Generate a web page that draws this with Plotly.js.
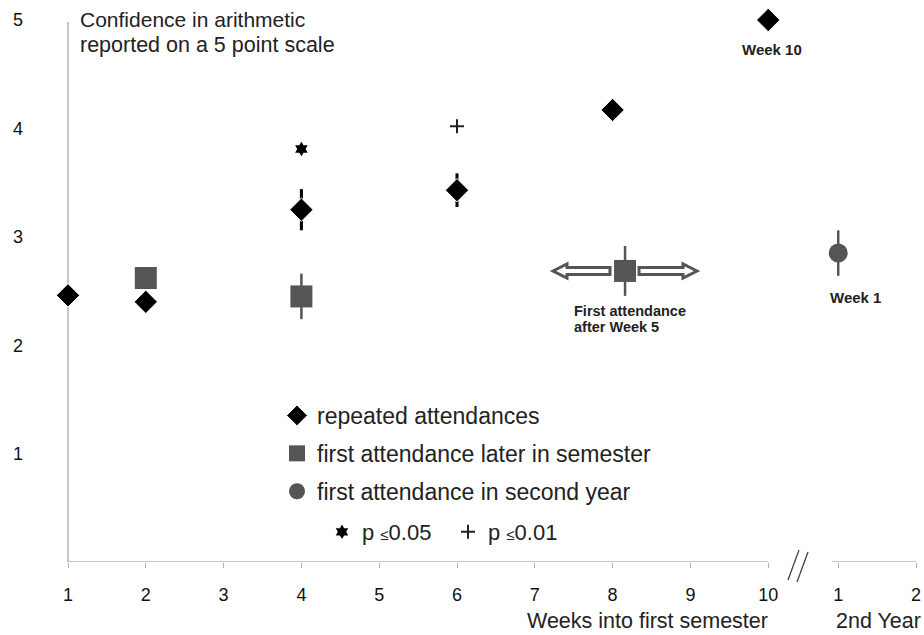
<!DOCTYPE html>
<html>
<head>
<meta charset="utf-8">
<script src="https://cdn.plot.ly/plotly-3.0.1.min.js"></script>
<style>html,body{margin:0;padding:0;background:#fff;}#chart{width:924px;height:635px;}</style>
</head>
<body>
<div id="chart"></div>
<script>
// ---------------- data ----------------
const weekTicks = [1, 2, 3, 4, 5, 6, 7, 8, 9, 10, 10.9, 11.9];
const weekTickText = ['1', '2', '3', '4', '5', '6', '7', '8', '9', '10', '1', '2'];
const confTicks = [1, 2, 3, 4, 5];

// repeated attendances (diamonds)
const repWeeks = [1, 2, 4, 6, 8, 10];
const repConf = [2.46, 2.40, 3.25, 3.43, 4.17, 5.00];
const repErr = [0, 0, 0.19, 0.155, 0, 0];

// first attendance later in semester (squares)
const laterWeeks = [2, 4, 8.16];
const laterConf = [2.62, 2.45, 2.685];
const laterErr = [0, 0.21, 0.23];

// first attendance in second year (circle)
const secondYearWeeks = [10.9];
const secondYearConf = [2.85];
const secondYearErr = [0.21];

// significance markers
const sig05Weeks = [4];
const sig05Conf = [3.81];
const sig01Weeks = [6];
const sig01Conf = [4.02];

// ---------------- geometry helpers ----------------
const ML = 25, MR = 4, MT = 5, MB = 73, W = 924, H = 635;
const PW = W - ML - MR, PH = H - MT - MB;
const PXU = 77.8, PYU = 108.4;          // pixels per unit
const X0 = 1 - (68 - ML) / PXU;
const X1 = X0 + PW / PXU;
const Y1 = PH / PYU;
const BASE = H - MB;                      // pixel of y = 0
const PX = p => X0 + (p - ML) / PXU;      // pixel -> data x
const PY = p => (BASE - p) / PYU;         // pixel -> data y
const PAX = p => (p - ML) / PW;           // pixel -> paper x
const PAY = p => (BASE - p) / PH;         // pixel -> paper y

const FONT = 'Liberation Sans, Arial, sans-serif';
const GREY = '#555555';
const AXC = '#b3b3b3';

const traces = [
  {
    type: 'scatter', mode: 'markers', name: 'repeated attendances',
    x: repWeeks, y: repConf, legendgroup: 'a',
    marker: {symbol: 'diamond', size: 18, color: '#000', line: {color: '#fff', width: 1}},
    error_y: {type: 'data', array: repErr, visible: true, color: '#000', thickness: 3, width: 0}
  },
  {
    type: 'scatter', mode: 'markers', name: 'first attendance later in semester',
    x: laterWeeks, y: laterConf, legendgroup: 'b',
    marker: {symbol: 'square', size: 22, color: GREY},
    error_y: {type: 'data', array: laterErr, visible: true, color: GREY, thickness: 2.5, width: 0}
  },
  {
    type: 'scatter', mode: 'markers', name: 'first attendance in second year',
    x: secondYearWeeks, y: secondYearConf, legendgroup: 'c',
    marker: {symbol: 'circle', size: 19, color: GREY},
    error_y: {type: 'data', array: secondYearErr, visible: true, color: GREY, thickness: 2.5, width: 0}
  },
  {
    type: 'scatter', mode: 'markers', name: 'p <span style="font-size:15px">≤</span>0.05',
    x: sig05Weeks, y: sig05Conf, legend: 'legend2',
    marker: {symbol: 'hexagram', size: 11, color: '#000'}
  },
  {
    type: 'scatter', mode: 'markers', name: 'p <span style="font-size:15px">≤</span>0.01',
    x: sig01Weeks, y: sig01Conf, legend: 'legend2',
    marker: {symbol: 'cross-thin', size: 10, color: '#222', line: {color: '#222', width: 2}}
  }
];

function arrowPath(pts) {
  return 'M ' + pts.map(p => PX(p[0]) + ',' + PY(p[1])).join(' L ') + ' Z';
}
const cy = 271;
const leftArrow = arrowPath([[553, cy], [567, cy - 7], [567, cy - 3.5], [610, cy - 3.5], [610, cy + 3.5], [567, cy + 3.5], [567, cy + 7]]);
const rightArrow = arrowPath([[697, cy], [683, cy - 7], [683, cy - 3.5], [639, cy - 3.5], [639, cy + 3.5], [683, cy + 3.5], [683, cy + 7]]);

const shapes = [
  {type: 'line', layer: 'below', xref: 'x', yref: 'y', x0: 1, x1: 1, y0: 0, y1: PY(22), line: {color: AXC, width: 1.5}},
  {type: 'line', layer: 'below', xref: 'x', yref: 'y', x0: 1, x1: 10, y0: 0, y1: 0, line: {color: AXC, width: 1.5}},
  {type: 'line', layer: 'below', xref: 'x', yref: 'y', x0: PX(832), x1: 11.9, y0: 0, y1: 0, line: {color: AXC, width: 1.5}},
  {type: 'line', xref: 'paper', yref: 'paper', x0: PAX(788), x1: PAX(799), y0: PAY(580), y1: PAY(550), line: {color: '#444', width: 1.3}},
  {type: 'line', xref: 'paper', yref: 'paper', x0: PAX(797), x1: PAX(808), y0: PAY(582), y1: PAY(552), line: {color: '#444', width: 1.3}},
  {type: 'path', xref: 'x', yref: 'y', path: leftArrow, fillcolor: '#fff', line: {color: GREY, width: 3}},
  {type: 'path', xref: 'x', yref: 'y', path: rightArrow, fillcolor: '#fff', line: {color: GREY, width: 3}}
];

function note(text, px, py, size, opts) {
  return Object.assign({
    text: text, xref: 'paper', yref: 'paper', x: PAX(px), y: PAY(py),
    xanchor: 'left', yanchor: 'middle', showarrow: false,
    font: {family: FONT, size: size, color: '#222'}
  }, opts || {});
}

const annotations = [
  note('Confidence in arithmetic', 78, 20, 21),
  note('reported on a 5 point scale', 78, 45, 21.5),
  note('<b>Week 10</b>', 772, 50, 15, {xanchor: 'center'}),
  note('<b>Week 1</b>', 855, 297, 15, {xanchor: 'center'}),
  note('<b>First attendance</b>', 572, 311, 14.5),
  note('<b>after Week 5</b>', 572, 327, 14.5),
  note('Weeks into first semester', 770, 621, 21.5, {xanchor: 'right'}),
  note('2nd Year', 878, 621, 21.5, {xanchor: 'center'})
];

const layout = {
  width: W, height: H,
  margin: {l: ML, r: MR, t: MT, b: MB, pad: 0},
  paper_bgcolor: '#fff', plot_bgcolor: '#fff',
  font: {family: FONT, color: '#222'},
  showlegend: true,
  xaxis: {
    range: [X0, X1], tickmode: 'array', tickvals: weekTicks, ticktext: weekTickText,
    showgrid: false, zeroline: false, showline: false,
    ticks: 'outside', ticklen: 5, tickwidth: 1, tickcolor: AXC,
    ticklabelstandoff: 11,
    tickfont: {family: FONT, size: 18, color: '#111'}, fixedrange: true
  },
  yaxis: {
    range: [0, Y1], tickmode: 'array', tickvals: confTicks,
    showgrid: false, zeroline: false, showline: false, ticks: '',
    ticklabelstandoff: 1,
    tickfont: {family: FONT, size: 18, color: '#111'}, fixedrange: true
  },
  legend: {
    x: PAX(277), y: PAY(394), xanchor: 'left', yanchor: 'top',
    bgcolor: 'rgba(0,0,0,0)', borderwidth: 0, tracegroupgap: 5,
    font: {family: FONT, size: 23, color: '#222'}
  },
  legend2: {
    x: PAX(322), y: PAY(511), xanchor: 'left', yanchor: 'top', orientation: 'h',
    bgcolor: 'rgba(0,0,0,0)', borderwidth: 0, entrywidth: 81, entrywidthmode: 'pixels',
    font: {family: FONT, size: 22, color: '#222'}
  },
  shapes: shapes,
  annotations: annotations
};

Plotly.newPlot('chart', traces, layout, {displayModeBar: false, staticPlot: true});
</script>
</body>
</html>
